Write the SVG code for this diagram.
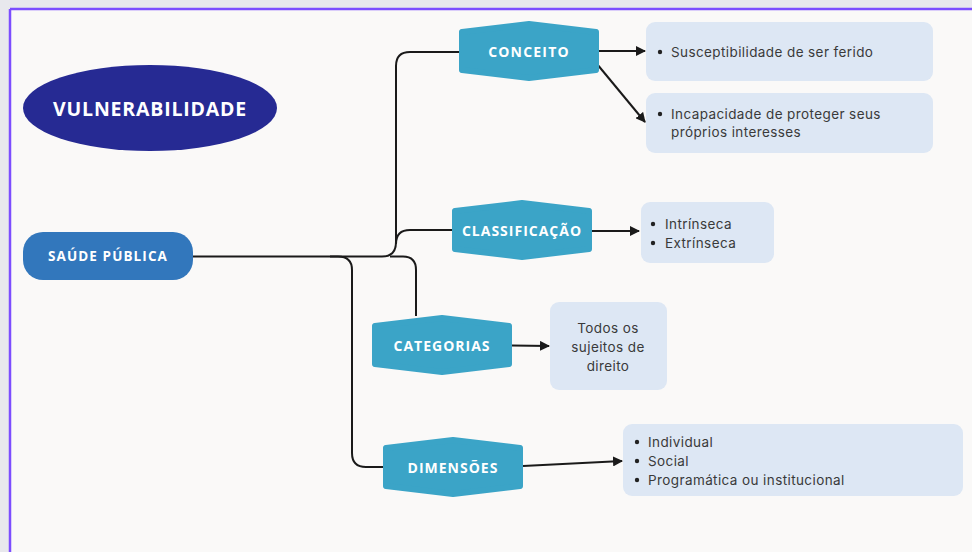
<svg xmlns="http://www.w3.org/2000/svg" xmlns:xlink="http://www.w3.org/1999/xlink" width="972" height="552" viewBox="0 0 972 552">
<style>
.lbl{font-family:"Open Sans","Liberation Sans",sans-serif;font-weight:700;fill:#ffffff;text-anchor:middle;dominant-baseline:central}
.txt{font-family:Inter,"Open Sans","Liberation Sans",sans-serif;font-size:13.5px;letter-spacing:0.4px;fill:#3a3a3a;dominant-baseline:central}
.box{fill:#dde7f4}
.hex{fill:#3ba4c7;stroke:#3ba4c7;stroke-width:6;stroke-linejoin:round}
.con{fill:none;stroke:#1a1a1a;stroke-width:2}
.arr{fill:none;stroke:#1a1a1a;stroke-width:2;marker-end:url(#ah)}
</style>
<defs>
<marker id="ah" viewBox="0 0 10 10" refX="9" refY="5" markerWidth="5" markerHeight="5" orient="auto" markerUnits="strokeWidth">
<path d="M0,0 L10,5 L0,10 z" fill="#1a1a1a"/>
</marker>
<path id="hexshape" class="hex" d="M-67,-19 L0,-27 L67,-19 L67,19 L0,27 L-67,19 Z"/>
</defs>
<rect x="0" y="0" width="972" height="552" fill="#e8e8ed"/>
<rect x="10" y="9" width="962" height="543" fill="#faf9f8"/>
<line x1="10" y1="9" x2="10" y2="552" stroke="#7c4dff" stroke-width="2.5"/>
<line x1="10" y1="9" x2="972" y2="9" stroke="#7c4dff" stroke-width="2.5"/>

<g id="connectors">
<path class="con" d="M193,256.5 L382,256.5 Q396,256.5 396,242 L396,66 Q396,52 410,52 L459,52"/>
<path class="con" d="M396,244 Q396,230 410,230 L453,230"/>
<path class="con" d="M390,256.5 L403,256.5 Q416,256.5 416,270 L416,316"/>
<path class="con" d="M330,256.5 L338,256.5 Q352,256.5 352,270 L352,453 Q352,467 366,467 L383,467"/>
<path class="arr" d="M599,51 L645,51"/>
<path class="arr" d="M597,64 L645,122"/>
<path class="arr" d="M592,231 L639,231"/>
<path class="arr" d="M512,345.5 L549,346"/>
<path class="arr" d="M523,466 L622,461"/>
</g>

<g id="vulnerabilidade">
<ellipse cx="150" cy="108" rx="127" ry="43" fill="#262a93"/>
<text class="lbl" x="150" y="108" font-size="19.5" letter-spacing="0.8">VULNERABILIDADE</text>
</g>

<g id="saude-publica">
<rect x="23" y="232" width="170" height="48" rx="20" fill="#3277bc"/>
<text class="lbl" x="108" y="256" font-size="13.5" letter-spacing="1.1">SAÚDE PÚBLICA</text>
</g>

<g id="conceito">
<use xlink:href="#hexshape" x="529" y="51"/>
<text class="lbl" x="529" y="51" font-size="14" letter-spacing="1.2">CONCEITO</text>
</g>

<g id="classificacao">
<use xlink:href="#hexshape" x="522" y="230"/>
<text class="lbl" x="522" y="230" font-size="14" letter-spacing="1">CLASSIFICAÇÃO</text>
</g>

<g id="categorias">
<use xlink:href="#hexshape" x="442" y="345"/>
<text class="lbl" x="442" y="345" font-size="14" letter-spacing="1">CATEGORIAS</text>
</g>

<g id="dimensoes">
<use xlink:href="#hexshape" x="453" y="467"/>
<text class="lbl" x="453" y="467" font-size="14" letter-spacing="1">DIMENSÕES</text>
</g>

<g id="box-susceptibilidade">
<rect class="box" x="646" y="22" width="287" height="59" rx="9"/>
<circle cx="660" cy="52" r="2.2" fill="#222"/>
<text class="txt" x="671" y="52">Susceptibilidade de ser ferido</text>
</g>

<g id="box-incapacidade">
<rect class="box" x="646" y="93" width="287" height="60" rx="9"/>
<circle cx="660" cy="114" r="2.2" fill="#222"/>
<text class="txt" x="671" y="114">Incapacidade de proteger seus</text>
<text class="txt" x="671" y="132">próprios interesses</text>
</g>

<g id="box-classificacao">
<rect class="box" x="641" y="202" width="133" height="61" rx="9"/>
<circle cx="653" cy="224" r="2.2" fill="#222"/>
<text class="txt" x="665" y="224">Intrínseca</text>
<circle cx="653" cy="243" r="2.2" fill="#222"/>
<text class="txt" x="665" y="243">Extrínseca</text>
</g>

<g id="box-categorias">
<rect class="box" x="550" y="302" width="117" height="88" rx="9"/>
<text class="txt" x="608" y="328" text-anchor="middle">Todos os</text>
<text class="txt" x="608" y="347" text-anchor="middle">sujeitos de</text>
<text class="txt" x="608" y="366" text-anchor="middle">direito</text>
</g>

<g id="box-dimensoes">
<rect class="box" x="623" y="424" width="340" height="72" rx="9"/>
<circle cx="637" cy="442" r="2.2" fill="#222"/>
<text class="txt" x="648" y="442">Individual</text>
<circle cx="637" cy="461" r="2.2" fill="#222"/>
<text class="txt" x="648" y="461">Social</text>
<circle cx="637" cy="480" r="2.2" fill="#222"/>
<text class="txt" x="648" y="480">Programática ou institucional</text>
</g>
</svg>
